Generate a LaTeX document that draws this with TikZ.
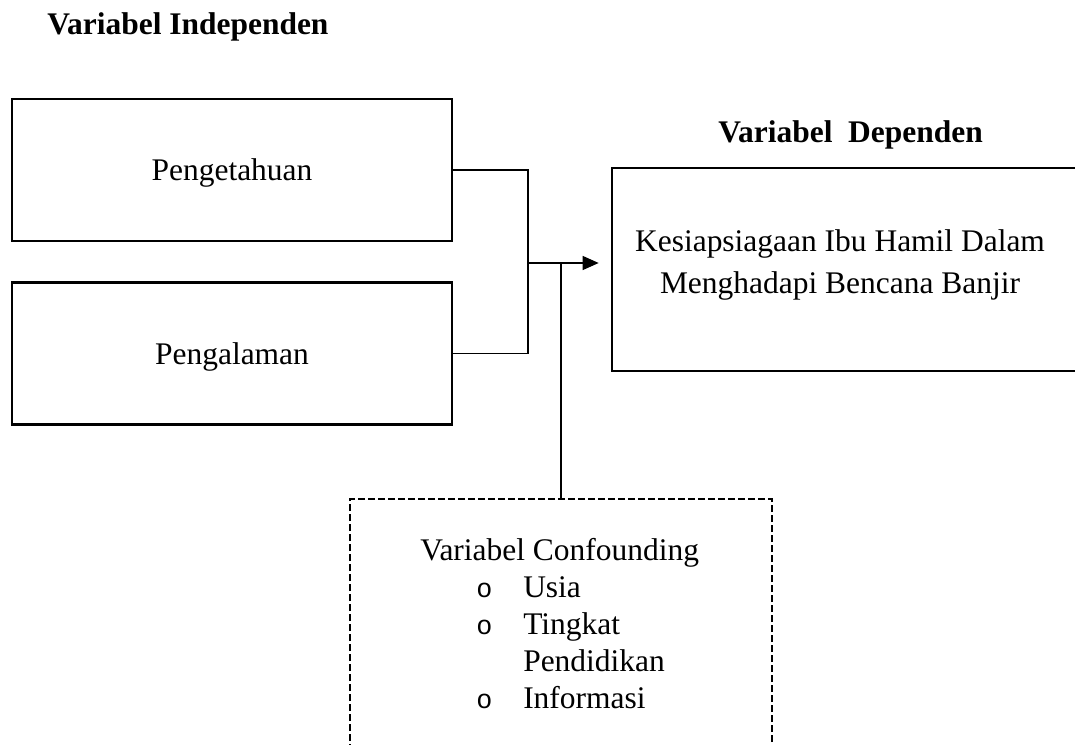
\documentclass[tikz,border=0pt]{standalone}
\usepackage{fontspec}
\setmainfont{Liberation Serif}
\newfontfamily\bulletfont[Scale=0.85]{Liberation Mono}
\usetikzlibrary{arrows.meta,positioning,calc}
\newcommand{\confbullet}{\makebox[35.25pt][l]{\bulletfont o}}

\begin{document}
\begin{tikzpicture}[
  x=0.75pt, y=-0.75pt,
  every node/.style={font=\fontsize{23.6}{27.75}\selectfont, inner sep=0pt},
  head/.style={font=\fontsize{23.6}{27.75}\selectfont\bfseries, anchor=base west},
  box/.style={draw, line width=2pt, minimum width=330pt, minimum height=106.5pt, text depth=0pt},
  dashbox/.style={draw, line width=2pt, dash pattern=on 5pt off 2.5pt},
  link/.style={line width=1pt},
  arrow/.style={link, -{Triangle[length=12pt, width=10.5pt]}, shorten >=9pt}
]
\useasboundingbox (0,0) rectangle (1075,745);
\node[head] (indep) at (47,35) {Variabel Independen};
\node[box] (peng) at (232,170) {Pengetahuan};
\node[box, below=29.25pt of peng] (pengal) {Pengalaman};
\node[head] (dephead) at (718,143) {Variabel\ \ Dependen};
\node[box, minimum width=351pt, minimum height=152.25pt] (depbox) at (846,269.5) {};
\node[align=center, font=\fontsize{23.6}{31}\selectfont] (deptext) at (840,265) {Kesiapsiagaan Ibu Hamil Dalam\\Menghadapi Bencana Banjir};
\node[dashbox, minimum width=316.5pt, minimum height=195.75pt] (conf) at (561,629.5) {};
\node[anchor=base west] (conftext) at (420,560) {\begin{tabular}[t]{@{}l@{}}
  Variabel Confounding\\
  \hspace*{42pt}\confbullet Usia\\
  \hspace*{42pt}\confbullet Tingkat\\
  \hspace*{77.25pt}Pendidikan\\
  \hspace*{42pt}\confbullet Informasi
\end{tabular}};
\coordinate (jn) at (528,263);
\draw[link] (peng.east) -| (jn);
\draw[link] (pengal.east) -| (jn);
\draw[arrow] (jn) -- (jn -| depbox.west);
\draw[link] (conf.north) -- (conf.north |- jn);
\end{tikzpicture}
\end{document}
